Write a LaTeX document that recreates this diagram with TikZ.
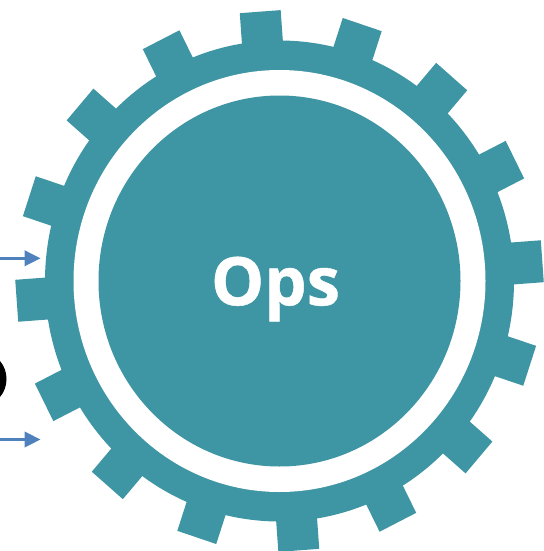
\documentclass[tikz,border=0pt]{standalone}
\usepackage{fontspec}
\setmainfont{Open Sans}[BoldFeatures={FakeBold=0.6}]
\usetikzlibrary{arrows.meta}
\definecolor{gearteal}{HTML}{3E95A3}
\definecolor{arrowblue}{HTML}{4F81BD}
\tikzset{
  flowarrow/.style={draw=arrowblue,line width=2.4pt,-{Triangle[length=16pt,width=15.5pt]}}
}
\begin{document}
\begin{tikzpicture}[x=1pt,y=-1pt]
\useasboundingbox (0,0) rectangle (543,551);
\coordinate (c) at (279.5,281);
% gear teeth
\begin{scope}[shift={(c)},yscale=1.025]
\foreach \k in {0,...,15}{
  \pgfmathsetmacro{\a}{94.2-22.5*\k}
  \fill[gearteal,rotate=\a] (200,-20.5) rectangle (263.5,20.5);
}
\end{scope}
\fill[gearteal] (c) ellipse [x radius=234.5,y radius=240.5];
\fill[white] (c) ellipse [x radius=206,y radius=211];
\fill[gearteal] (c) ellipse [x radius=181,y radius=185.5];
\node[text=white,font=\fontsize{67}{67}\selectfont\bfseries,inner sep=0pt] (ops) at (275.5,289) {Ops};
% connectors
\coordinate (a1s) at (0,258.3);\coordinate (a1e) at (40.5,258.3);
\coordinate (a2s) at (0,439.5);\coordinate (a2e) at (40.5,439.5);
\draw[flowarrow] (a1s) -- (a1e);
\draw[flowarrow] (a2s) -- (a2e);
% clipped letter
\begin{scope}
\clip (0,0) rectangle (543,551);
\draw[black,line width=9pt] (-16,379) ellipse [x radius=18,y radius=21];
\end{scope}
\end{tikzpicture}
\end{document}
